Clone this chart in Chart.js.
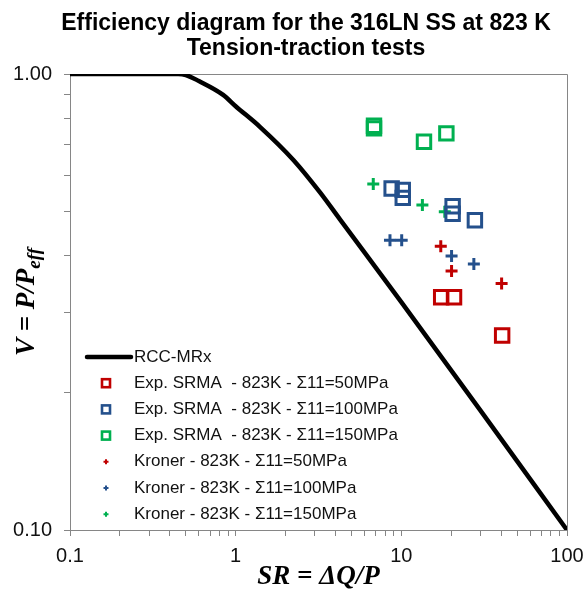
<!DOCTYPE html>
<html>
<head>
<meta charset="utf-8">
<script src="https://cdn.jsdelivr.net/npm/chart.js@4/dist/chart.umd.min.js"></script>
<style>
  html, body { margin: 0; padding: 0; background: #ffffff; overflow: hidden; }
  canvas { display: block; }
</style>
</head>
<body>
<canvas id="chart" width="587" height="589"></canvas>
<script>
// ---- data ----
const titleLines = ['Efficiency diagram for the 316LN SS at 823 K', 'Tension-traction tests'];
const xTickValues = [0.1, 1, 10, 100];
const xTickLabels = ['0.1', '1', '10', '100'];
const yTickValues = [0.1, 1];
const yTickLabels = ['0.10', '1.00'];

// design curve RCC-MRx (SR, V)
const rccSR = [0.1, 0.2, 0.3, 0.45, 0.5, 0.6, 0.84, 1.0, 1.4, 2.23, 3.23, 4.26, 10, 30, 100];
const rccV  = [1, 1, 1, 1, 0.995, 0.965, 0.9, 0.85, 0.766, 0.648, 0.55, 0.48, 0.316, 0.183, 0.1];

// experimental points, SRMA
const srma50SR  = [17.4, 20.8, 40.6];
const srma50V   = [0.324, 0.324, 0.267];
const srma100SR = [8.74, 10.2, 10.2, 20.4, 20.4, 27.8];
const srma100V  = [0.561, 0.557, 0.535, 0.513, 0.494, 0.478];
const srma150SR = [6.84, 6.84, 13.7, 18.7];
const srma150V  = [0.770, 0.760, 0.710, 0.741];

// Kroner estimates
const kro50SR  = [17.3, 20.1, 40.3];
const kro50V   = [0.419, 0.370, 0.347];
const kro100SR = [8.54, 10.05, 20.1, 27.4];
const kro100V  = [0.432, 0.432, 0.399, 0.383];
const kro150SR = [6.77, 13.4, 18.3];
const kro150V  = [0.574, 0.516, 0.499];

const seriesLabels = [
  'RCC-MRx',
  'Exp. SRMA  - 823K - Σ11=50MPa',
  'Exp. SRMA  - 823K - Σ11=100MPa',
  'Exp. SRMA  - 823K - Σ11=150MPa',
  'Kroner - 823K - Σ11=50MPa',
  'Kroner - 823K - Σ11=100MPa',
  'Kroner - 823K - Σ11=150MPa'
];

// ---- styling ----
const RED = '#C00000', BLUE = '#24508C', GREEN = '#00B050';
const AXIS = '#868686';
const SANS = '"Liberation Sans", Arial, sans-serif';
const SERIF = '"Liberation Serif", "Times New Roman", serif';

const pts = (xs, ys) => xs.map((x, i) => ({ x: x, y: ys[i] }));

const squareSet = (label, xs, ys, color) => ({
  label, data: pts(xs, ys), showLine: false,
  pointStyle: 'rect', pointRadius: 9.5, pointBorderWidth: 3,
  borderColor: color, pointBorderColor: color, backgroundColor: 'rgba(0,0,0,0)',
  pointBackgroundColor: 'rgba(0,0,0,0)', pointHoverRadius: 9.5, legendMarker: 'square'
});
const crossSet = (label, xs, ys, color) => ({
  label, data: pts(xs, ys), showLine: false,
  pointStyle: 'cross', pointRadius: 6, pointBorderWidth: 3,
  borderColor: color, pointBorderColor: color, backgroundColor: color,
  pointHoverRadius: 6, legendMarker: 'dot'
});

const datasets = [
  {
    label: seriesLabels[0], data: pts(rccSR, rccV), showLine: true,
    borderColor: '#000000', borderWidth: 4.5, pointRadius: 0, pointHoverRadius: 0,
    cubicInterpolationMode: 'monotone', fill: false, legendMarker: 'line', order: 10
  },
  squareSet(seriesLabels[1], srma50SR, srma50V, RED),
  squareSet(seriesLabels[2], srma100SR, srma100V, BLUE),
  squareSet(seriesLabels[3], srma150SR, srma150V, GREEN),
  crossSet(seriesLabels[4], kro50SR, kro50V, RED),
  crossSet(seriesLabels[5], kro100SR, kro100V, BLUE),
  crossSet(seriesLabels[6], kro150SR, kro150V, GREEN)
];

// minor + major tick positions for a log axis
function logTicks(min, max) {
  const out = [];
  for (let e = Math.round(Math.log10(min)); e < Math.round(Math.log10(max)); e++) {
    for (let m = 1; m < 10; m++) out.push(+(m * Math.pow(10, e)).toPrecision(6));
  }
  out.push(max);
  return out;
}
function labelFor(value, values, labels) {
  const i = values.findIndex(v => Math.abs(v - value) < 1e-9 * Math.max(1, v));
  return i >= 0 ? labels[i] : '';
}

// ---- frame, titles and in-plot legend ----
const decor = {
  id: 'decor',
  beforeDraw(chart) {
    const ctx = chart.ctx;
    ctx.save();
    ctx.fillStyle = '#ffffff';
    ctx.fillRect(0, 0, chart.width, chart.height);
    ctx.restore();
  },
  beforeDatasetsDraw(chart) {
    const { ctx, chartArea: a } = chart;
    ctx.save();
    ctx.strokeStyle = AXIS;
    ctx.lineWidth = 1;
    ctx.beginPath();
    ctx.moveTo(a.left, Math.floor(a.top) + 0.5);
    ctx.lineTo(Math.floor(a.right) + 0.5, Math.floor(a.top) + 0.5);
    ctx.lineTo(Math.floor(a.right) + 0.5, a.bottom);
    ctx.stroke();
    ctx.restore();
  },
  afterDraw(chart) {
    const { ctx, chartArea: a } = chart;
    ctx.save();

    // chart title
    ctx.fillStyle = '#000000';
    ctx.textAlign = 'center';
    ctx.textBaseline = 'alphabetic';
    ctx.font = 'bold 23px ' + SANS;
    ctx.fillText(titleLines[0], 306, 30);
    ctx.fillText(titleLines[1], 306, 55);

    // x axis title
    ctx.font = 'italic bold 27px ' + SERIF;
    ctx.textAlign = 'center';
    ctx.fillText('SR = ΔQ/P', (a.left + a.right) / 2, 584);

    // y axis title with subscript
    ctx.save();
    ctx.translate(34, (a.top + a.bottom) / 2);
    ctx.rotate(-Math.PI / 2);
    const mainTxt = 'V = P/P', subTxt = 'eff';
    ctx.font = 'italic bold 27px ' + SERIF;
    const wMain = ctx.measureText(mainTxt).width;
    ctx.font = 'italic bold 19px ' + SERIF;
    const wSub = ctx.measureText(subTxt).width;
    const x0 = -(wMain + wSub) / 2;
    ctx.textAlign = 'left';
    ctx.font = 'italic bold 27px ' + SERIF;
    ctx.fillText(mainTxt, x0, 0);
    ctx.font = 'italic bold 19px ' + SERIF;
    ctx.fillText(subTxt, x0 + wMain, 6);
    ctx.restore();

    // legend inside the plot
    const lx = a.left + 15, tx = a.left + 64, ly0 = 357, dy = 26.2;
    ctx.font = '17px ' + SANS;
    ctx.textAlign = 'left';
    ctx.textBaseline = 'middle';
    chart.data.datasets.forEach((ds, i) => {
      const y = ly0 + i * dy;
      const c = ds.borderColor;
      if (ds.legendMarker === 'line') {
        ctx.strokeStyle = c; ctx.lineWidth = 4.5; ctx.lineCap = 'round';
        ctx.beginPath(); ctx.moveTo(lx + 2, y); ctx.lineTo(lx + 46, y); ctx.stroke();
        ctx.lineCap = 'butt';
      } else if (ds.legendMarker === 'square') {
        ctx.strokeStyle = c; ctx.lineWidth = 2.6;
        ctx.strokeRect(lx + 21 - 4, y - 4, 8, 8);
      } else {
        ctx.strokeStyle = c; ctx.lineWidth = 2;
        ctx.beginPath();
        ctx.moveTo(lx + 21 - 2.5, y); ctx.lineTo(lx + 21 + 2.5, y);
        ctx.moveTo(lx + 21, y - 2.5); ctx.lineTo(lx + 21, y + 2.5);
        ctx.stroke();
      }
      ctx.fillStyle = '#111111';
      ctx.fillText(ds.label, tx, y);
    });
    ctx.restore();
  }
};

new Chart(document.getElementById('chart'), {
  type: 'scatter',
  data: { datasets },
  options: {
    responsive: false,
    animation: false,
    devicePixelRatio: 1,
    layout: { padding: { top: 74, right: 20, left: 0, bottom: 0 } },
    plugins: {
      legend: { display: false },
      title: { display: false },
      tooltip: { enabled: false }
    },
    scales: {
      x: {
        type: 'logarithmic', min: 0.1, max: 100,
        afterFit(s) { s.height = 59; s.paddingLeft = 0; s.paddingRight = 0; },
        afterBuildTicks(s) { s.ticks = logTicks(0.1, 100).map(v => ({ value: v })); },
        ticks: {
          autoSkip: false, maxRotation: 0, padding: 8,
          color: '#111111', font: { family: SANS, size: 20 },
          callback: (v) => labelFor(v, xTickValues, xTickLabels)
        },
        grid: { drawOnChartArea: false, drawTicks: true, tickLength: 6, color: AXIS },
        border: { display: true, color: AXIS, width: 1 }
      },
      y: {
        type: 'logarithmic', min: 0.1, max: 1,
        afterFit(s) { s.width = 70; s.paddingTop = 0; s.paddingBottom = 0; },
        afterBuildTicks(s) { s.ticks = logTicks(0.1, 1).map(v => ({ value: v })); },
        ticks: {
          autoSkip: false, padding: 12,
          color: '#111111', font: { family: SANS, size: 20 },
          callback: (v) => labelFor(v, yTickValues, yTickLabels)
        },
        grid: { drawOnChartArea: false, drawTicks: true, tickLength: 6, color: AXIS },
        border: { display: true, color: AXIS, width: 1 }
      }
    }
  },
  plugins: [decor]
});
</script>
</body>
</html>
